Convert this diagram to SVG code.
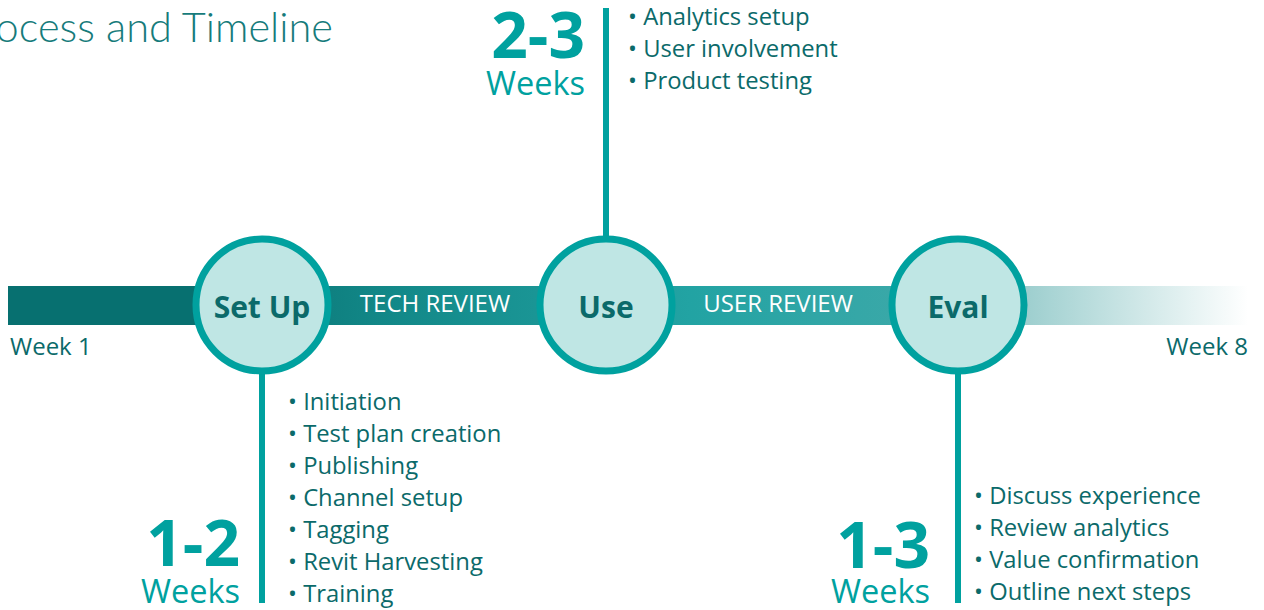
<svg xmlns="http://www.w3.org/2000/svg" width="1264" height="610" viewBox="0 0 1264 610">
<defs>
<linearGradient id="bar" gradientUnits="userSpaceOnUse" x1="8" y1="0" x2="1248" y2="0">
<stop offset="0" stop-color="#077070"/>
<stop offset="0.15" stop-color="#077070"/>
<stop offset="0.3" stop-color="#128787"/>
<stop offset="0.55" stop-color="#22a3a3"/>
<stop offset="0.72" stop-color="#3aa8a8"/>
<stop offset="0.8" stop-color="#92c9c9"/>
<stop offset="1" stop-color="#ffffff"/>
</linearGradient>
<style>
.title{font-family:Lato,"Open Sans",sans-serif;font-weight:300;font-size:41.5px;fill:#167b7b}
.node circle{fill:#bfe6e4;stroke:#00a19f;stroke-width:7}
.node text{font-family:"Open Sans",sans-serif;font-weight:700;font-size:30px;fill:#0b6a6a;text-anchor:middle}
.stem{stroke:#00a19f;stroke-width:6}
.band{font-family:"Open Sans",sans-serif;font-size:24px;fill:#ffffff;text-anchor:middle}
.wk{font-family:"Open Sans",sans-serif;font-size:24px;fill:#0b6a6a}
.num{font-family:"Open Sans",sans-serif;font-weight:700;font-size:64px;fill:#00a19f;text-anchor:end}
.weeks{font-family:"Open Sans",sans-serif;font-size:32.5px;fill:#00a19f;text-anchor:end}
.item{font-family:"Open Sans",sans-serif;font-size:23.8px;fill:#0b6a6a}
</style>
</defs>
<rect width="1264" height="610" fill="#ffffff"/>
<text class="title" x="333" y="42" text-anchor="end">Process and Timeline</text>
<g id="timeline">
<rect x="8" y="286" width="1240" height="39" fill="url(#bar)"/>
<text class="band" x="435" y="312">TECH REVIEW</text>
<text class="band" x="778" y="312">USER REVIEW</text>
<text class="wk" x="10" y="355">Week 1</text>
<text class="wk" x="1248" y="355" text-anchor="end">Week 8</text>
</g>
<g id="connectors">
<line class="stem" x1="606" y1="8" x2="606" y2="240"/>
<line class="stem" x1="262" y1="370" x2="262" y2="603"/>
<line class="stem" x1="958" y1="370" x2="958" y2="603"/>
</g>
<g id="setup" class="node">
<circle cx="262" cy="305" r="66"/>
<text x="262" y="318">Set Up</text>
</g>
<g id="use" class="node">
<circle cx="606" cy="305" r="66"/>
<text x="606" y="318">Use</text>
</g>
<g id="eval" class="node">
<circle cx="958" cy="305" r="66"/>
<text x="958" y="318">Eval</text>
</g>
<g id="use-details">
<text class="num" x="585" y="58">2-3</text>
<text class="weeks" x="585" y="95">Weeks</text>
<text class="item" x="628" y="25">• Analytics setup</text>
<text class="item" x="628" y="57">• User involvement</text>
<text class="item" x="628" y="89">• Product testing</text>
</g>
<g id="setup-details">
<text class="num" x="240" y="566">1-2</text>
<text class="weeks" x="240" y="603">Weeks</text>
<text class="item" x="288" y="410">• Initiation</text>
<text class="item" x="288" y="442">• Test plan creation</text>
<text class="item" x="288" y="474">• Publishing</text>
<text class="item" x="288" y="506">• Channel setup</text>
<text class="item" x="288" y="538">• Tagging</text>
<text class="item" x="288" y="570">• Revit Harvesting</text>
<text class="item" x="288" y="602">• Training</text>
</g>
<g id="eval-details">
<text class="num" x="930" y="568">1-3</text>
<text class="weeks" x="930" y="603">Weeks</text>
<text class="item" x="974" y="504">• Discuss experience</text>
<text class="item" x="974" y="536">• Review analytics</text>
<text class="item" x="974" y="568">• Value confirmation</text>
<text class="item" x="974" y="600">• Outline next steps</text>
</g>
</svg>
